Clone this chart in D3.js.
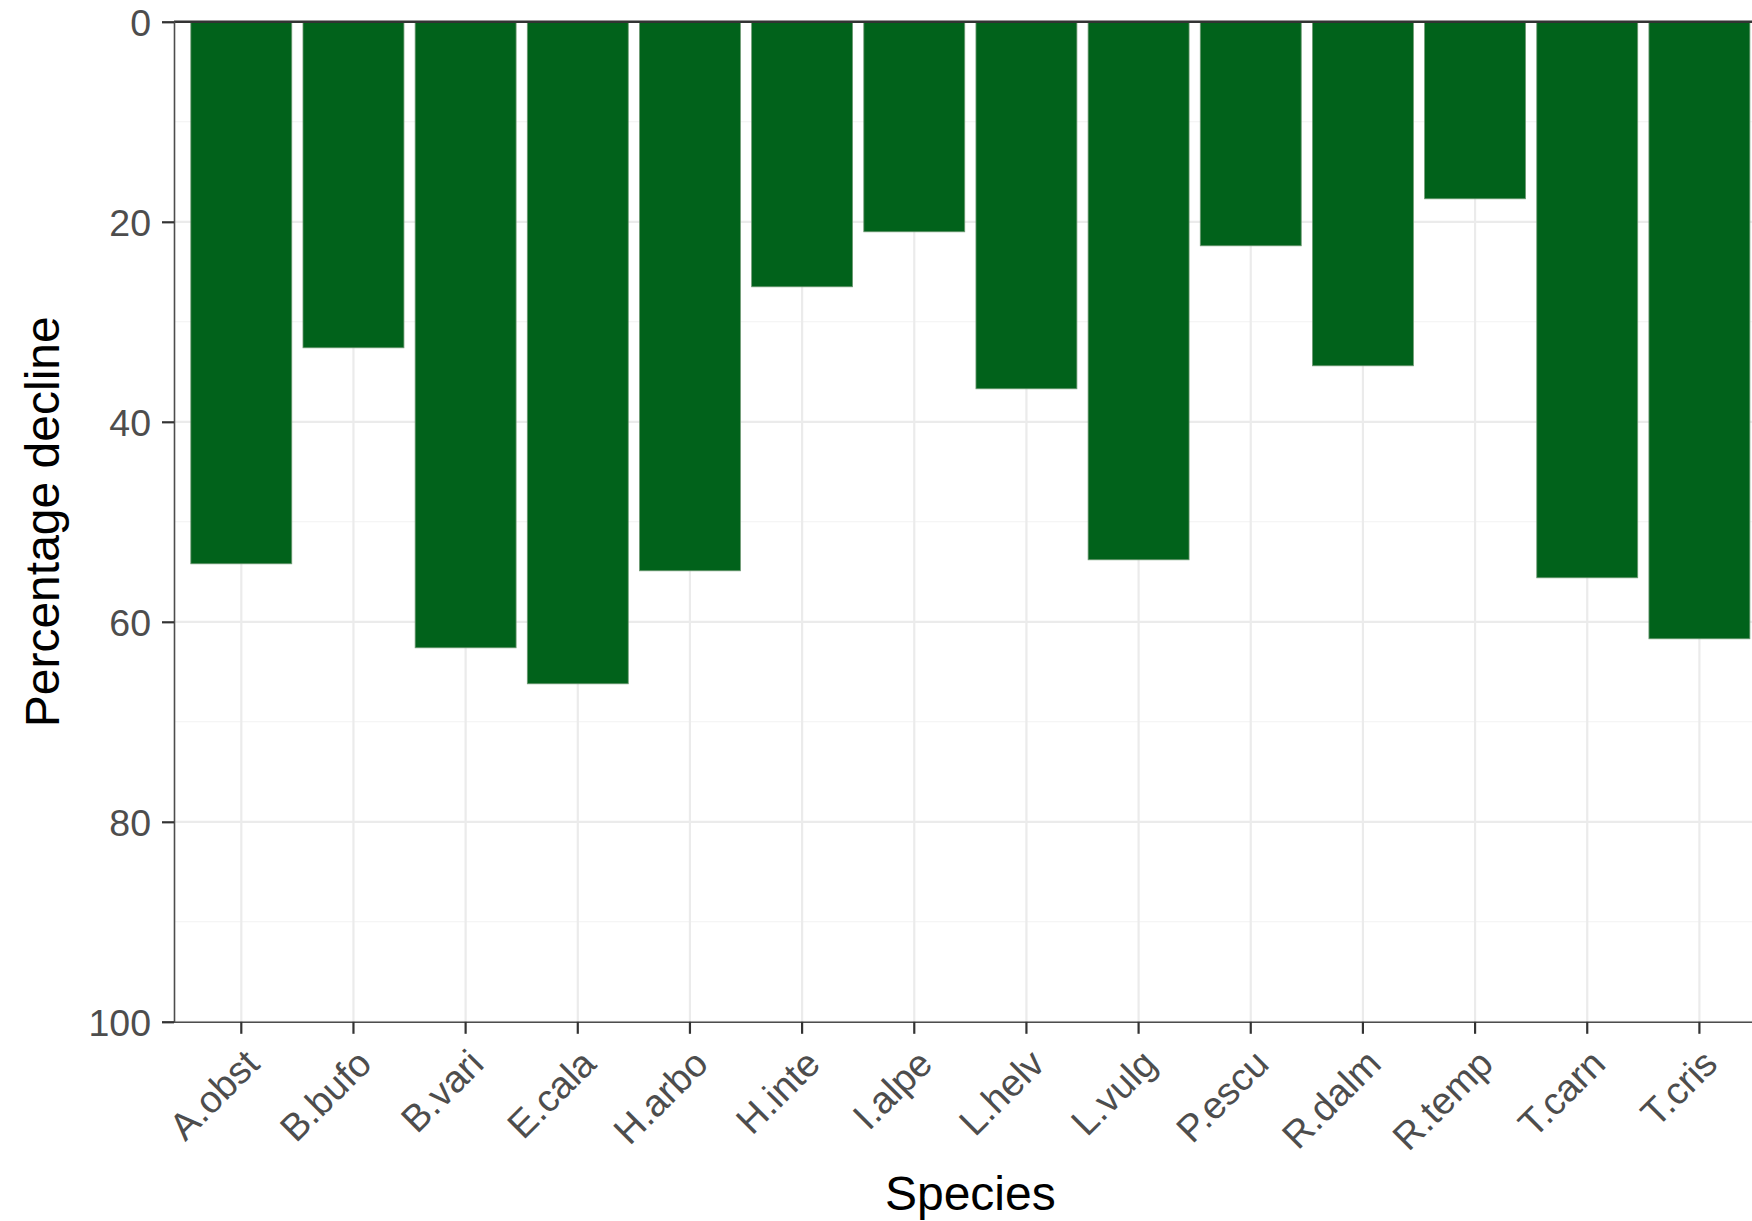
<!DOCTYPE html>
<html>
<head>
<meta charset="utf-8">
<script src="https://cdn.jsdelivr.net/npm/d3@7"></script>
<style>
  html, body { margin: 0; padding: 0; background: #ffffff; }
  svg { display: block; font-family: "Liberation Sans", Arial, sans-serif; }
</style>
</head>
<body>
<svg id="chart" width="1752" height="1221"></svg>
<script>
// Species codes along the x axis
const species = ["A.obst", "B.bufo", "B.vari", "E.cala", "H.arbo", "H.inte", "I.alpe",
                 "L.helv", "L.vulg", "P.escu", "R.dalm", "R.temp", "T.carn", "T.cris"];
// Percentage decline per species
const decline = [54.2, 32.6, 62.6, 66.2, 54.9, 26.5, 21.0,
                 36.7, 53.8, 22.4, 34.4, 17.7, 55.6, 61.7];
// Tick values on the (reversed) y axis
const yMajorTicks = [0, 20, 40, 60, 80, 100];
const yMinorTicks = [10, 30, 50, 70, 90];

const data = species.map((s, i) => ({ species: s, value: decline[i] }));

const svg = d3.select("#chart");
const panel = { left: 174, right: 1766.7, top: 21.8, bottom: 1021.8 };

// Discrete x: bars take 0.9 of a step, 0.6 step of space before the first centre
const x = d3.scaleBand()
  .domain(species)
  .range([panel.left, panel.right])
  .paddingInner(0.1)
  .paddingOuter(0.15);

// Reversed y: 0 at the top, 100 at the bottom
const y = d3.scaleLinear().domain([0, 100]).range([panel.top, panel.bottom]);

const g = svg.append("g");

// Minor horizontal grid
g.append("g").selectAll("line").data(yMinorTicks).join("line")
  .attr("x1", panel.left).attr("x2", panel.right)
  .attr("y1", d => y(d)).attr("y2", d => y(d))
  .attr("stroke", "#f2f2f2").attr("stroke-width", 1.1);

// Major horizontal grid
g.append("g").selectAll("line").data(yMajorTicks).join("line")
  .attr("x1", panel.left).attr("x2", panel.right)
  .attr("y1", d => y(d)).attr("y2", d => y(d))
  .attr("stroke", "#ebebeb").attr("stroke-width", 2.2);

// Vertical grid at each species
g.append("g").selectAll("line").data(species).join("line")
  .attr("x1", d => x(d) + x.bandwidth() / 2).attr("x2", d => x(d) + x.bandwidth() / 2)
  .attr("y1", panel.top).attr("y2", panel.bottom)
  .attr("stroke", "#ebebeb").attr("stroke-width", 2.2);

// Bars hanging down from 0
g.append("g").selectAll("rect").data(data).join("rect")
  .attr("x", d => x(d.species))
  .attr("width", x.bandwidth())
  .attr("y", y(0))
  .attr("height", d => y(d.value) - y(0))
  .attr("fill", "#01621b")
  .attr("stroke", "#6f9a74")
  .attr("stroke-width", 0.8);

// Reference line at zero
g.append("line")
  .attr("x1", panel.left).attr("x2", panel.right)
  .attr("y1", y(0)).attr("y2", y(0))
  .attr("stroke", "#333333").attr("stroke-width", 2.4);

// Y axis
const yAxis = svg.append("g")
  .attr("transform", `translate(${panel.left},0)`)
  .call(d3.axisLeft(y).tickValues(yMajorTicks).tickSize(12).tickPadding(11).tickFormat(d3.format("d")));
yAxis.select(".domain").attr("stroke", "#4d4d4d").attr("stroke-width", 1.6);
yAxis.selectAll(".tick line").attr("stroke", "#333333").attr("stroke-width", 2.2);
yAxis.selectAll(".tick text")
  .attr("fill", "#4d4d4d")
  .style("font-size", "37.5px")
  .attr("dy", "0.36em");

// X axis at the bottom of the panel
const xAxis = svg.append("g")
  .attr("transform", `translate(0,${panel.bottom})`)
  .call(d3.axisBottom(x).tickSize(12).tickSizeOuter(0));
xAxis.select(".domain").attr("stroke", "#4d4d4d").attr("stroke-width", 1.6);
xAxis.selectAll(".tick line").attr("stroke", "#333333").attr("stroke-width", 2.2);
xAxis.selectAll(".tick text")
  .attr("fill", "#4d4d4d")
  .style("font-size", "38px")
  .attr("text-anchor", "end")
  .attr("x", 0).attr("y", 0)
  .attr("dy", "0.75em")
  .attr("transform", "translate(0,24) rotate(-45)");

// Axis titles
svg.append("text")
  .attr("x", (panel.left + panel.right) / 2)
  .attr("y", 1210)
  .attr("text-anchor", "middle")
  .attr("fill", "#000000")
  .style("font-size", "48px")
  .text("Species");

svg.append("text")
  .attr("transform", `translate(59,${(panel.top + panel.bottom) / 2}) rotate(-90)`)
  .attr("text-anchor", "middle")
  .attr("fill", "#000000")
  .style("font-size", "48px")
  .text("Percentage decline");
</script>
</body>
</html>
